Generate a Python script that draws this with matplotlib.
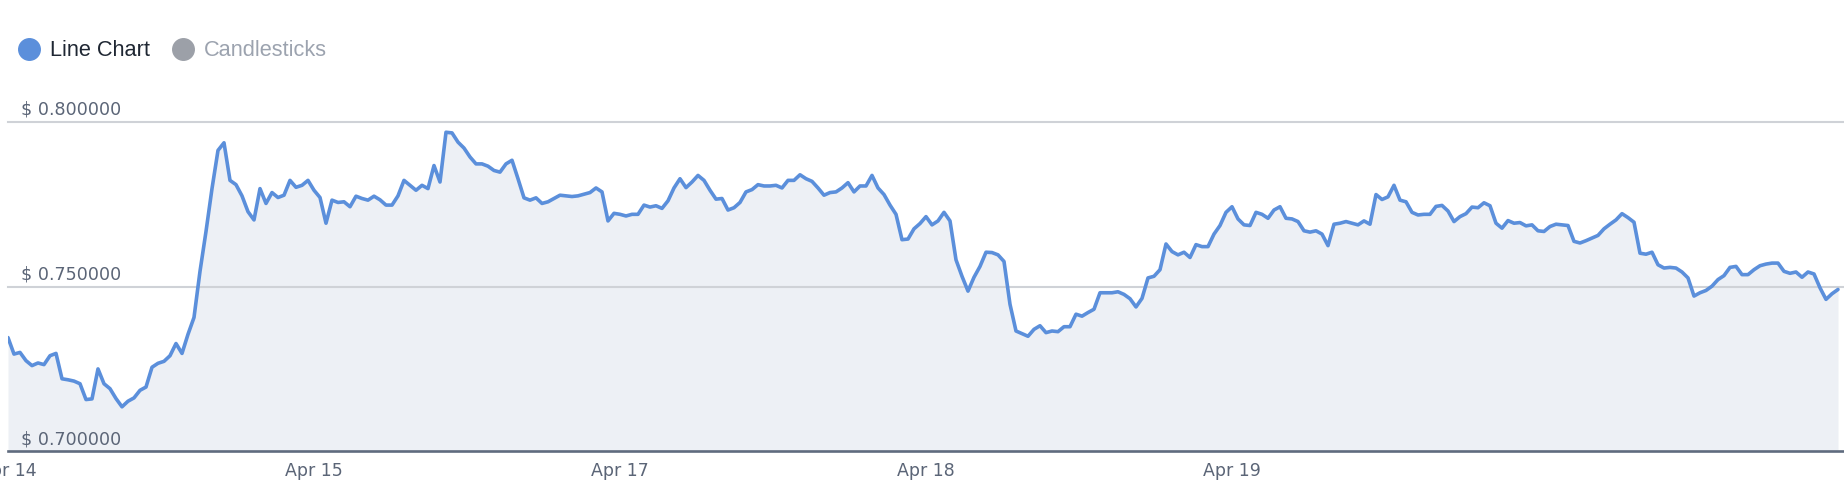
import numpy as np
import matplotlib.pyplot as plt
from matplotlib.lines import Line2D
from matplotlib.transforms import blended_transform_factory, offset_copy

# price samples (USD), evenly spaced in time in chunks
price_part1 = [0.7345, 0.7295, 0.7300, 0.7275, 0.7260, 0.7268, 0.7263, 0.7290, 0.7297, 0.7220,
               0.7217, 0.7213, 0.7205, 0.7157, 0.7159, 0.7250, 0.7205, 0.7190, 0.7160, 0.7135,
               0.7152, 0.7162, 0.7185, 0.7195, 0.7255, 0.7267, 0.7273, 0.7290, 0.7327, 0.7297,
               0.7355, 0.7406, 0.7546, 0.7667, 0.7797, 0.7913, 0.7936, 0.7822, 0.7809, 0.7775,
               0.7727, 0.7702, 0.7797]
price_part2 = [0.7752, 0.7785, 0.7770, 0.7777, 0.7822, 0.7801, 0.7807, 0.7822, 0.7792, 0.7770,
               0.7692, 0.7762, 0.7755, 0.7757, 0.7742, 0.7774, 0.7767, 0.7762, 0.7774, 0.7763,
               0.7747, 0.7747, 0.7775, 0.7822, 0.7807, 0.7792, 0.7807, 0.7797, 0.7867, 0.7817,
               0.7968, 0.7966, 0.7938, 0.7920, 0.7893, 0.7872, 0.7872, 0.7865, 0.7852, 0.7847,
               0.7872, 0.7883, 0.7827, 0.7769]
price_part3 = [0.7762, 0.7769, 0.7752, 0.7757, 0.7767, 0.7777, 0.7775, 0.7773, 0.7775, 0.7780,
               0.7785, 0.7799, 0.7787, 0.7699, 0.7722, 0.7719, 0.7714, 0.7719, 0.7719, 0.7747,
               0.7741, 0.7745, 0.7737, 0.7760, 0.7799, 0.7827, 0.7800, 0.7817, 0.7837, 0.7822,
               0.7792, 0.7765, 0.7767, 0.7732, 0.7739, 0.7755, 0.7787, 0.7794, 0.7809, 0.7805,
               0.7805, 0.7807, 0.7799, 0.7822]
price_part4 = [0.7822, 0.7839, 0.7827, 0.7819, 0.7799, 0.7777, 0.7785, 0.7787, 0.7799, 0.7815,
               0.7787, 0.7805, 0.7805, 0.7837, 0.7799, 0.7779, 0.7747, 0.7719, 0.7642, 0.7644,
               0.7675, 0.7691, 0.7712, 0.7687, 0.7699, 0.7725, 0.7699, 0.7581, 0.7531, 0.7486,
               0.7528, 0.7561, 0.7604, 0.7603, 0.7596, 0.7576, 0.7446, 0.7365, 0.7357, 0.7349,
               0.7370, 0.7381, 0.7360, 0.7365]
price_part5 = [0.7363, 0.7378, 0.7378, 0.7416, 0.7410, 0.7421, 0.7431, 0.7481, 0.7481, 0.7481,
               0.7484, 0.7476, 0.7463, 0.7438, 0.7464, 0.7526, 0.7531, 0.7551, 0.7629, 0.7606,
               0.7596, 0.7604, 0.7588, 0.7627, 0.7621, 0.7621, 0.7659, 0.7685, 0.7725, 0.7742,
               0.7705, 0.7687, 0.7685, 0.7725, 0.7719, 0.7707, 0.7732, 0.7742, 0.7707, 0.7705,
               0.7697, 0.7669, 0.7665, 0.7669]
price_part6 = [0.7659, 0.7624, 0.7689, 0.7692, 0.7697, 0.7692, 0.7687, 0.7699, 0.7689, 0.7779,
               0.7764, 0.7772, 0.7807, 0.7762, 0.7757, 0.7725, 0.7717, 0.7719, 0.7719, 0.7743,
               0.7746, 0.7729, 0.7697, 0.7712, 0.7721, 0.7741, 0.7739, 0.7754, 0.7745, 0.7692,
               0.7677, 0.7700, 0.7692, 0.7694, 0.7684, 0.7687, 0.7669, 0.7667, 0.7682, 0.7689,
               0.7687, 0.7685, 0.7637, 0.7632]
price_part7 = [0.7639, 0.7647, 0.7655, 0.7675, 0.7689, 0.7702, 0.7721, 0.7709, 0.7695, 0.7601,
               0.7598, 0.7604, 0.7566, 0.7556, 0.7558, 0.7556, 0.7544, 0.7526, 0.7471, 0.7481,
               0.7488, 0.7501, 0.7521, 0.7533, 0.7558, 0.7561, 0.7536, 0.7536, 0.7551, 0.7563,
               0.7568, 0.7571, 0.7571, 0.7546, 0.7540, 0.7544, 0.7528, 0.7544, 0.7538, 0.7496,
               0.7461, 0.7478, 0.7491]

tick_pos = [0, 51, 102, 153, 204]
tick_labels = ["Apr 14", "Apr 15", "Apr 17", "Apr 18", "Apr 19"]
y_ticks = [0.70, 0.75, 0.80]
legend_names = ["Line Chart", "Candlesticks"]

price = np.array(price_part1 + price_part2 + price_part3 + price_part4
                 + price_part5 + price_part6 + price_part7)
x = np.arange(len(price))

W, H = 1844, 502
fig = plt.figure(figsize=(W / 100, H / 100), dpi=100)
ax = fig.add_axes([8 / W, (H - 452.3) / H, 1836 / W, 329.6 / H])

line_color = "#5b8fdb"
label_color = "#5b6577"

ax.fill_between(x, price, 0.70, color="#edf0f5", lw=0, zorder=1)
for v in y_ticks[1:]:
    ax.axhline(v, color="#cfd2d7", lw=1.5, zorder=2, clip_on=False)
ax.plot(x, price, color=line_color, lw=2.6, solid_joinstyle="round",
        solid_capstyle="round", zorder=3)

ax.set_xlim(0, len(price))
ax.set_ylim(0.70, 0.80)

for s in ["top", "left", "right"]:
    ax.spines[s].set_visible(False)
ax.spines["bottom"].set_color("#5f6b7e")
ax.spines["bottom"].set_linewidth(1.9)
ax.spines["bottom"].set_zorder(4)

ax.set_yticks([])
ax.set_xticks(tick_pos, tick_labels)
ax.tick_params(axis="x", length=0, pad=7, labelsize=12.5, labelcolor=label_color)

# y labels sit just above their gridlines, inside the plot
trans = blended_transform_factory(ax.transAxes, ax.transData)
for v in y_ticks:
    ax.text(0, v, f"$ {v:.6f}", transform=offset_copy(trans, fig=fig, x=13, y=4, units="dots"),
            ha="left", va="bottom", fontsize=12.6, color=label_color, zorder=5)

# legend
legend_colors = ["#5b8fdb", "#9ca0a8"]
legend_text_colors = ["#1f2733", "#9ca3af"]
legend_x = [29, 183]
for name, c, tc, lx in zip(legend_names, legend_colors, legend_text_colors, legend_x):
    fig.add_artist(Line2D([lx / W], [1 - 50 / H], marker="o", markersize=15.5,
                          color=c, lw=0, transform=fig.transFigure))
    fig.text((lx + 21) / W, 1 - 50 / H, name, va="center", ha="left",
             fontsize=15.7, family="Liberation Sans", color=tc)

fig.savefig("out.png", dpi=100)
